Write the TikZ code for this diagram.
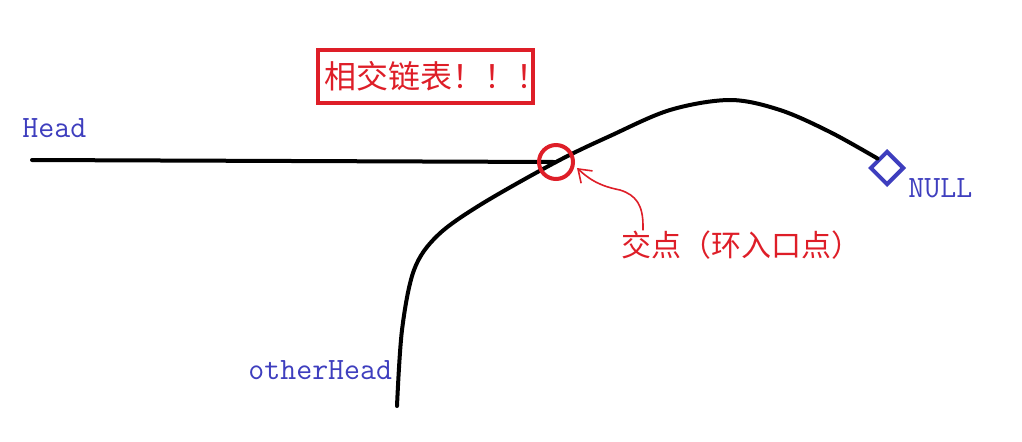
\documentclass[tikz,border=0pt]{standalone}
\usepackage{fontspec}
\newfontfamily\cjk{Noto Sans CJK SC}
\usetikzlibrary{shapes.geometric,arrows.meta}
\definecolor{labelblue}{RGB}{62,62,190}
\definecolor{markred}{RGB}{222,30,40}

\begin{document}
\begin{tikzpicture}[x=0.5pt,y=-0.5pt,
    lbl/.style={text=labelblue,font=\ttfamily\fontsize{15.5}{15.5}\selectfont,inner sep=0pt},
    note/.style={text=markred,inner sep=0pt},
    list/.style={line width=2pt,line cap=round,line join=round}]
  \useasboundingbox (0,0) rectangle (1022,441);
  % labels
  \node[lbl,anchor=west] (head) at (22,128) {Head};
  \node[lbl,anchor=west] (otherhead) at (248,370) {otherHead};
  \node[lbl,anchor=west] (null) at (908,188) {NULL};
  \node[note,draw=markred,line width=2pt,minimum width=107.5pt,minimum height=26.5pt,
        font=\cjk\fontsize{16}{16}\selectfont] (title) at (425,76) {\makebox[101pt][l]{相交链表！！！}};
  \node[note,anchor=west,font=\cjk\fontsize{15}{15}\selectfont] (meet) at (621,245) {交点（环入口点）};
  % points
  \coordinate (start) at (32,160);
  \coordinate (tail) at (397,406);
  \coordinate (inter) at (556,162);
  \node[diamond,draw=labelblue,line width=2pt,inner sep=0pt,minimum size=17pt] (end) at (887,168) {};
  % lists
  \draw[list] (start) -- (inter);
  \draw[list] plot[smooth,tension=0.55] coordinates {(tail) (402,330) (414,270) (437,236) (480,205) (inter)
        (610,136) (670,110) (730,100) (780,110) (830,132) (end.north west)};
  % mark
  \node[circle,draw=markred,line width=2pt,minimum size=17pt] (cross) at (inter) {};
  \draw[markred,line width=0.8pt,-{Straight Barb[length=6pt,width=10pt,angle'=70]}]
    (meet.north -| 643,0) -- (643,226) .. controls (643,205) and (636,195) .. (620,190)
    .. controls (600,186) and (590,180) .. (577,168);
\end{tikzpicture}
\end{document}
